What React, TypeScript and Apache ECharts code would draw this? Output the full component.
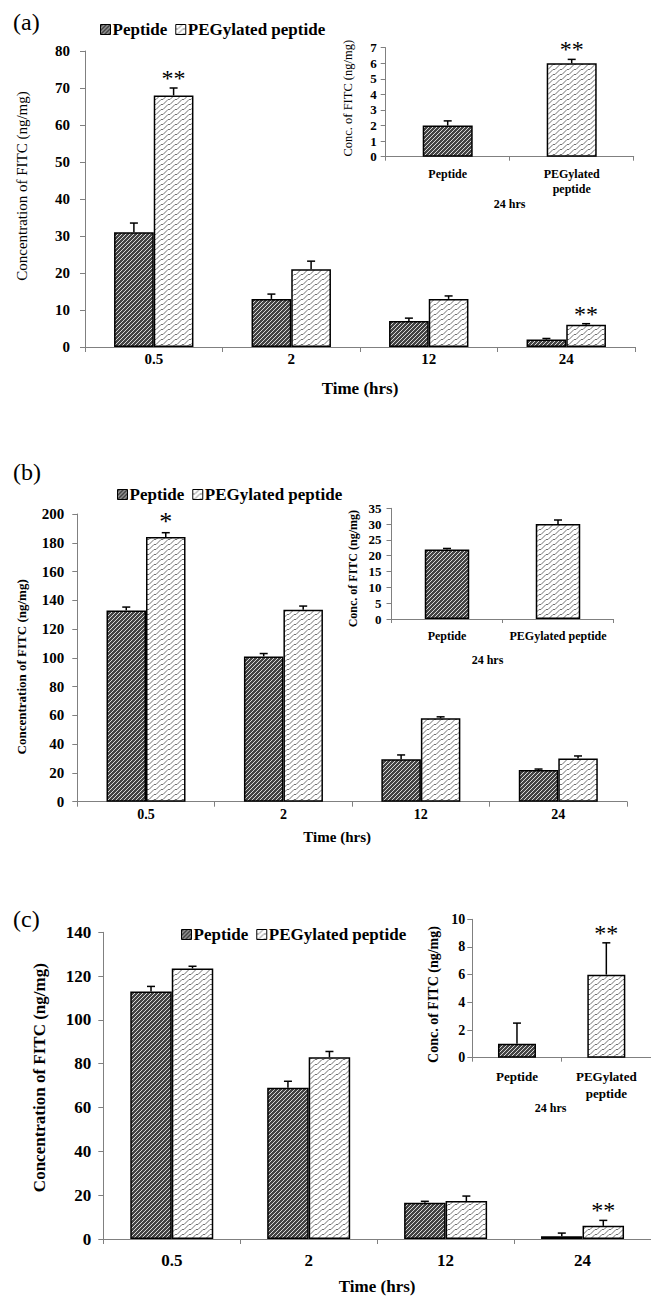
import React, { useEffect, useRef } from 'react';
import * as echarts from 'echarts';

const FONT = '"Liberation Serif", "Times New Roman", serif';

// ---------- data ----------
const TIME_CATEGORIES = ['0.5', '2', '12', '24'];
const SERIES_NAMES = ['Peptide', 'PEGylated peptide'];
const INSET_CATS_WRAPPED = ['Peptide', 'PEGylated\npeptide'];
const INSET_CATS_FLAT = ['Peptide', 'PEGylated peptide'];

// panel (a)
const A_PEP = [31, 13, 7, 2];
const A_PEP_ERR = [2.5, 1.3, 0.8, 0.3];
const A_PEP_STARS = ['', '', '', ''];
const A_PEG = [68, 21, 13, 6];
const A_PEG_ERR = [2, 2.2, 0.8, 0.3];
const A_PEG_STARS = ['**', '', '', '**'];
const A_INSET = [2, 6];
const A_INSET_ERR = [0.3, 0.25];
const A_INSET_STARS = ['', '**'];

// panel (b)
const B_PEP = [133, 101, 29.5, 22];
const B_PEP_ERR = [2.3, 2, 3, 0.7];
const B_PEP_STARS = ['', '', '', ''];
const B_PEG = [184, 133.5, 58, 30];
const B_PEG_ERR = [3, 2.5, 1, 1.8];
const B_PEG_STARS = ['*', '', '', ''];
const B_INSET = [22, 30];
const B_INSET_ERR = [0.3, 1.3];
const B_INSET_STARS = ['', ''];

// panel (c)
const C_PEP = [113, 69, 16.5, 1.3];
const C_PEP_ERR = [2.3, 3, 0.7, 1.4];
const C_PEP_STARS = ['', '', '', ''];
const C_PEG = [123.5, 83, 17.3, 6];
const C_PEG_ERR = [1, 2.6, 2.3, 2.5];
const C_PEG_STARS = ['', '', '', '**'];
const C_INSET = [1, 6];
const C_INSET_ERR = [1.5, 2.3];
const C_INSET_STARS = ['', '**'];

// axis ranges
const A_Y = { min: 0, max: 80, interval: 10 };
const A_IY = { min: 0, max: 7, interval: 1 };
const B_Y = { min: 0, max: 200, interval: 20 };
const B_IY = { min: 0, max: 35, interval: 5 };
const C_Y = { min: 0, max: 140, interval: 20 };
const C_IY = { min: 0, max: 10, interval: 2 };

// ---------- layout ----------
const GRIDS = [
  { left: 85, top: 51, width: 550, height: 296 },
  { left: 385.7, top: 47.7, width: 248, height: 109 },
  { left: 77.3, top: 514, width: 549.7, height: 287.7 },
  { left: 391.5, top: 508.3, width: 222, height: 110.7 },
  { left: 103.3, top: 932.3, width: 576, height: 307 },
  { left: 472.3, top: 919.3, width: 183.4, height: 138.4 },
];

function makePattern(kind: 'hatch' | 'wave') {
  const c = document.createElement('canvas');
  const w = kind === 'hatch' ? 4 : 7;
  const h = kind === 'hatch' ? 4 : 5;
  c.width = w;
  c.height = h;
  const g = c.getContext('2d')!;
  if (kind === 'hatch') {
    g.fillStyle = '#444444';
    g.fillRect(0, 0, w, h);
    g.strokeStyle = '#d8d8d8';
    g.lineWidth = 1;
    g.beginPath();
    g.moveTo(-1, h + 1);
    g.lineTo(w + 1, -1);
    g.stroke();
  } else {
    g.fillStyle = '#ffffff';
    g.fillRect(0, 0, w, h);
    g.strokeStyle = '#707070';
    g.lineWidth = 1;
    for (let dx = -w; dx <= w; dx += w) {
      for (let dy = -h; dy <= h; dy += h) {
        g.beginPath();
        g.moveTo(dx + 0, dy + 4.5);
        g.lineTo(dx + 2, dy + 4.5);
        g.lineTo(dx + 7, dy - 0.5);
        g.stroke();
      }
    }
  }
  return { image: c.toDataURL(), repeat: 'repeat', imageWidth: w, imageHeight: h };
}

function errSeries(xi: number, values: number[], errs: number[], stars: string[], offset: number, starSize: number) {
  return {
    type: 'custom',
    xAxisIndex: xi,
    yAxisIndex: xi,
    clip: false,
    silent: true,
    z: 5,
    data: values.map((v, i) => [i, v, errs[i]]),
    encode: { x: 0, y: 1 },
    renderItem: (params: any, api: any) => {
      const i = api.value(0);
      const v = api.value(1);
      const e = api.value(2);
      const b = api.coord([i, v]);
      const t = api.coord([i, v + e]);
      const cx = b[0] + offset;
      const children: any[] = [
        { type: 'line', shape: { x1: cx, y1: b[1], x2: cx, y2: t[1] }, style: { stroke: '#000', lineWidth: 1.5 } },
        { type: 'line', shape: { x1: cx - 4, y1: t[1], x2: cx + 4, y2: t[1] }, style: { stroke: '#000', lineWidth: 1.5 } },
      ];
      const s = stars[params.dataIndex];
      if (s) {
        children.push({
          type: 'text',
          x: cx,
          y: t[1] + 2,
          style: {
            text: s,
            align: 'center',
            verticalAlign: 'bottom',
            fontSize: starSize,
            fontFamily: FONT,
            fill: '#000',
          },
        });
      }
      return { type: 'group', children };
    },
  };
}

export default function App() {
  const ref = useRef<HTMLDivElement>(null);
  useEffect(() => {
    if (!ref.current) return;
    const chart = echarts.init(ref.current, null, { renderer: 'svg' });
    const PEP = makePattern('hatch');
    const PEG = makePattern('wave');
    const barStyle = (color: any) => ({ color, borderColor: '#000', borderWidth: 1.5 });

    const axisLineStyle = { color: '#808080', width: 1 };

    const mainX = (gi: number, fs: number, margin: number, nameGap: number, nameFs: number, namePad: number[]) => ({
      gridIndex: gi,
      type: 'category',
      data: TIME_CATEGORIES,
      axisLine: { lineStyle: axisLineStyle },
      axisTick: { show: true, length: 5, lineStyle: axisLineStyle },
      axisLabel: { fontFamily: FONT, fontWeight: 'bold', fontSize: fs, color: '#000', margin },
      name: 'Time (hrs)',
      nameLocation: 'middle',
      nameGap,
      nameTextStyle: { fontFamily: FONT, fontWeight: 'bold', fontSize: nameFs, color: '#000', padding: namePad },
    });
    const insetX = (gi: number, cats: string[], fs: number, margin: number, nameGap: number, nameFs: number, namePad: number[]) => ({
      gridIndex: gi,
      type: 'category',
      data: cats,
      axisLine: { lineStyle: axisLineStyle },
      axisTick: { show: true, length: 4, lineStyle: axisLineStyle },
      axisLabel: { fontFamily: FONT, fontWeight: 'bold', fontSize: fs, color: '#000', margin, interval: 0, lineHeight: fs * 1.25 },
      name: '24 hrs',
      nameLocation: 'middle',
      nameGap,
      nameTextStyle: { fontFamily: FONT, fontWeight: 'bold', fontSize: nameFs, color: '#000', padding: namePad },
    });
    const yAx = (gi: number, range: any, name: string, fs: number, margin: number, nameGap: number, nameFs: number, nameWeight: string, namePad: number[]) => ({
      gridIndex: gi,
      type: 'value',
      min: range.min,
      max: range.max,
      interval: range.interval,
      splitLine: { show: false },
      axisLine: { show: true, lineStyle: axisLineStyle },
      axisTick: { show: true, length: 5, lineStyle: axisLineStyle },
      axisLabel: { fontFamily: FONT, fontWeight: 'bold', fontSize: fs, color: '#000', margin },
      name,
      nameLocation: 'middle',
      nameGap,
      nameRotate: 90,
      nameTextStyle: { fontFamily: FONT, fontWeight: nameWeight, fontSize: nameFs, color: '#000', padding: namePad },
    });

    const mainBars = (gi: number, pep: number[], peg: number[], bw: number) => [
      { name: SERIES_NAMES[0], type: 'bar', xAxisIndex: gi, yAxisIndex: gi, data: pep, barWidth: bw, barGap: '0%', itemStyle: barStyle(PEP) },
      { name: SERIES_NAMES[1], type: 'bar', xAxisIndex: gi, yAxisIndex: gi, data: peg, barWidth: bw, barGap: '0%', itemStyle: barStyle(PEG) },
    ];
    const insetBars = (gi: number, vals: number[], bw: number) => ({
      name: 'inset' + gi,
      type: 'bar',
      xAxisIndex: gi,
      yAxisIndex: gi,
      barWidth: bw,
      data: vals.map((v, i) => ({ value: v, itemStyle: barStyle(i === 0 ? PEP : PEG) })),
    });

    const legend = (left: number, top: number) => ({
      data: SERIES_NAMES,
      left,
      top,
      orient: 'horizontal',
      itemWidth: 10,
      itemHeight: 10,
      itemGap: 8,
      icon: 'rect',
      selectedMode: false,
      itemStyle: { borderColor: '#000', borderWidth: 1 },
      textStyle: { fontFamily: FONT, fontWeight: 'bold', fontSize: 17, color: '#000', padding: [0, 0, 0, -3] },
    });

    const option: any = {
      animation: false,
      backgroundColor: '#ffffff',
      title: [
        { text: '(a)', left: 8, top: 5, textStyle: { fontFamily: FONT, fontWeight: 'normal', fontSize: 24, color: '#000' } },
        { text: '(b)', left: 8, top: 455, textStyle: { fontFamily: FONT, fontWeight: 'normal', fontSize: 24, color: '#000' } },
        { text: '(c)', left: 8, top: 902, textStyle: { fontFamily: FONT, fontWeight: 'normal', fontSize: 24, color: '#000' } },
      ],
      legend: [legend(95, 16), legend(112, 481), legend(176, 921)],
      grid: GRIDS.map((g) => ({ ...g, containLabel: false })),
      xAxis: [
        mainX(0, 15, 4, 33, 17, [0, 0, 0, 0]),
        insetX(1, INSET_CATS_WRAPPED, 12, 10, 33, 12, [0, 0, 0, 0]),
        mainX(2, 14, 6, 28, 15, [0, 30, 0, 0]),
        insetX(3, INSET_CATS_FLAT, 12, 9, 35, 12, [0, 30, 0, 0]),
        mainX(4, 17, 13, 39, 17, [0, 0, 0, 0]),
        insetX(5, INSET_CATS_WRAPPED, 13, 11, 37, 12, [0, 22, 0, 0]),
      ],
      yAxis: [
        yAx(0, A_Y, 'Concentration of FITC (ng/mg)', 15, 15, 56, 15, 'normal', [0, 0, 0, 26]),
        yAx(1, A_IY, 'Conc. of FITC (ng/mg)', 13, 9, 31, 12.5, 'normal', [0, 0, 0, 8]),
        yAx(2, B_Y, 'Concentration of FITC (ng/mg)', 15, 13, 49, 13, 'bold', [0, 18, 0, 0]),
        yAx(3, B_IY, 'Conc. of FITC (ng/mg)', 13, 10, 33, 12, 'bold', [0, 10, 0, 0]),
        yAx(4, C_Y, 'Concentration of FITC (ng/mg)', 17, 12, 55, 17, 'bold', [0, 0, 0, 16]),
        yAx(5, C_IY, 'Conc. of FITC (ng/mg)', 14, 7, 32, 14, 'bold', [0, 12, 0, 0]),
      ],
      series: [
        ...mainBars(0, A_PEP, A_PEG, 39.7),
        insetBars(1, A_INSET, 50),
        ...mainBars(2, B_PEP, B_PEG, 39.5),
        insetBars(3, B_INSET, 44.5),
        ...mainBars(4, C_PEP, C_PEG, 41.5),
        insetBars(5, C_INSET, 38),
        errSeries(0, A_PEP, A_PEP_ERR, A_PEP_STARS, -19.85, 24),
        errSeries(0, A_PEG, A_PEG_ERR, A_PEG_STARS, 19.85, 24),
        errSeries(1, A_INSET, A_INSET_ERR, A_INSET_STARS, 0, 24),
        errSeries(2, B_PEP, B_PEP_ERR, B_PEP_STARS, -19.75, 26),
        errSeries(2, B_PEG, B_PEG_ERR, B_PEG_STARS, 19.75, 26),
        errSeries(3, B_INSET, B_INSET_ERR, B_INSET_STARS, 0, 24),
        errSeries(4, C_PEP, C_PEP_ERR, C_PEP_STARS, -20.75, 24),
        errSeries(4, C_PEG, C_PEG_ERR, C_PEG_STARS, 20.75, 24),
        errSeries(5, C_INSET, C_INSET_ERR, C_INSET_STARS, 0, 24),
      ],
    };
    chart.setOption(option);
    return () => chart.dispose();
  }, []);
  return (
    <div
      ref={ref}
      style={{ position: 'absolute', left: 0, top: 0, width: 651, height: 1296, background: '#fff' }}
    />
  );
}
